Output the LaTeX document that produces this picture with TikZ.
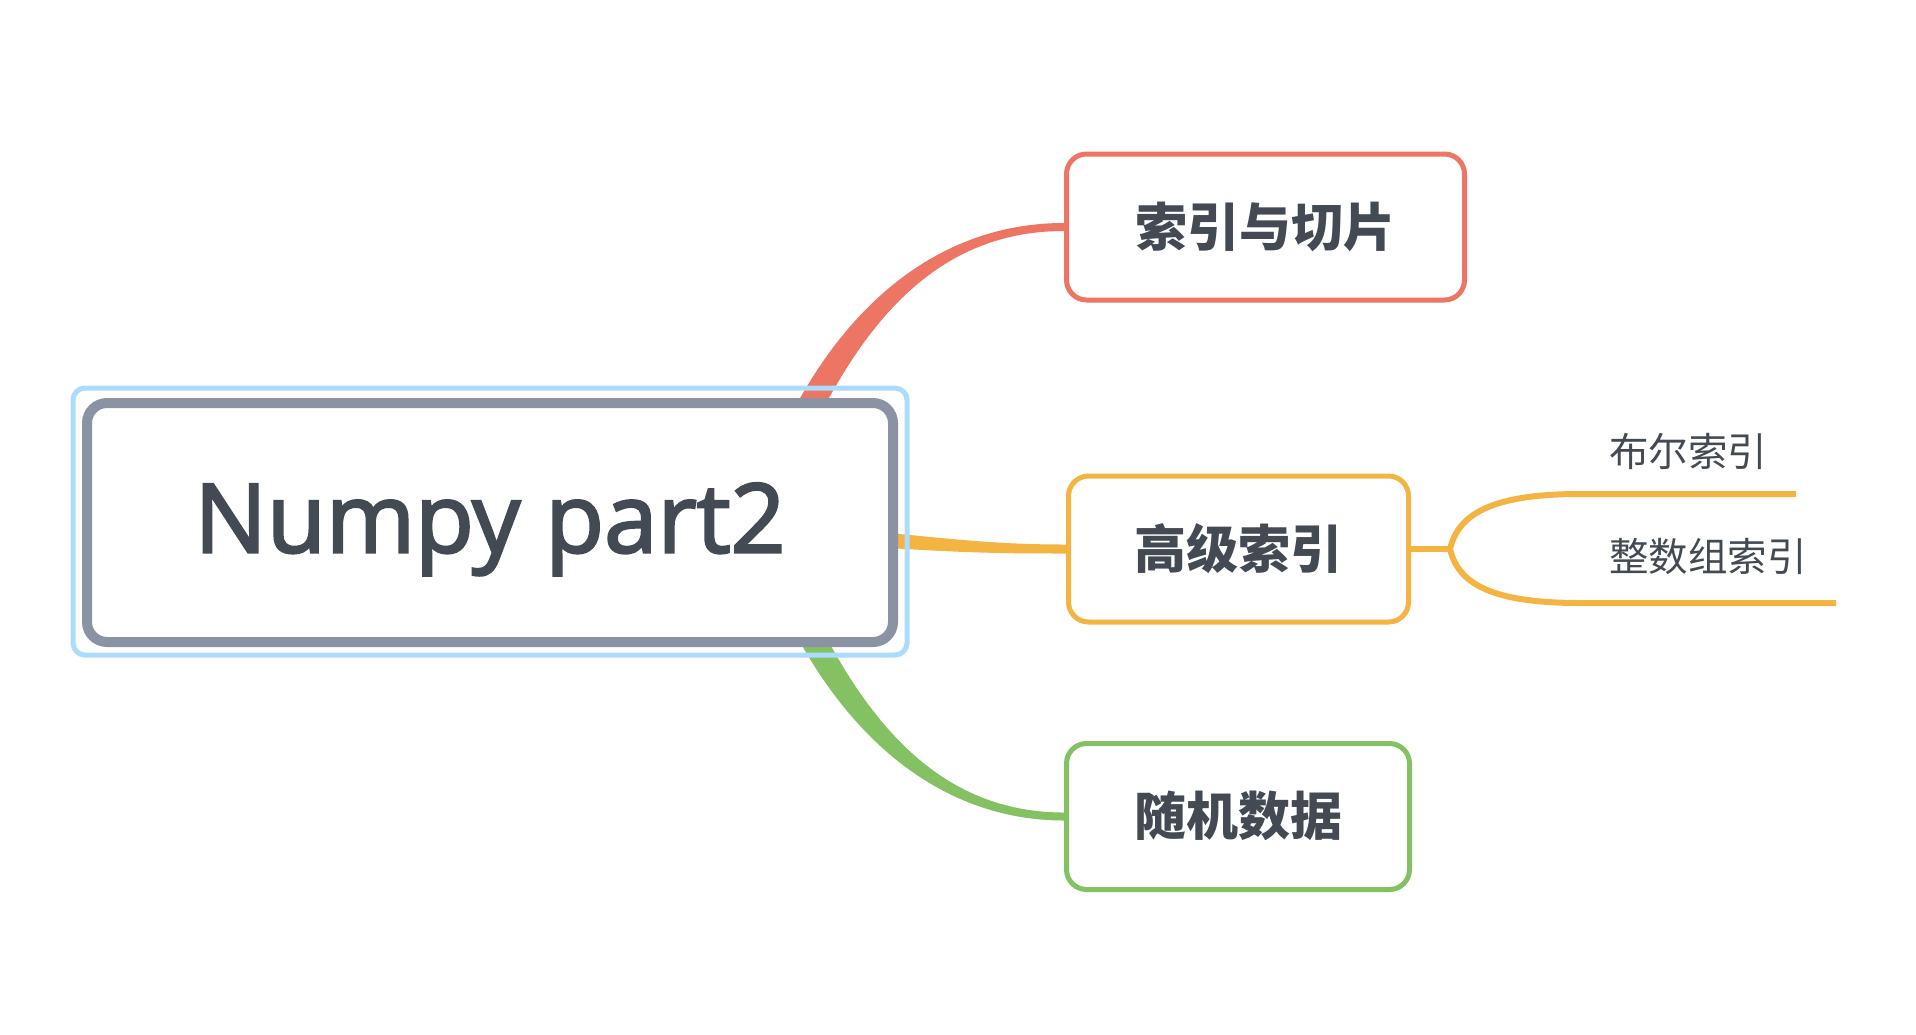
\documentclass[tikz,border=0pt]{standalone}
\usepackage{fontspec}
\setmainfont{Open Sans}
\newfontfamily\titlefont[FakeBold=2.5]{Open Sans}
\newfontfamily\cjk{Noto Sans CJK SC}
\usetikzlibrary{calc}
\definecolor{txt}{HTML}{434A54}
\definecolor{redc}{HTML}{EC7563}
\definecolor{orgc}{HTML}{F4B442}
\definecolor{grnc}{HTML}{84C163}
\definecolor{gryc}{HTML}{8A93A4}
\definecolor{bluc}{HTML}{ACDCFC}
\tikzset{
  topic/.style={draw=#1, line width=5pt, rounded corners=20pt, fill=white,
    minimum height=146pt, text=txt, anchor=west,
    font=\cjk\bfseries\fontsize{52}{60}\selectfont, text height=41pt, text depth=3pt, inner sep=0pt},
  subtopic/.style={text=txt, anchor=west, inner sep=0pt,
    font=\cjk\fontsize{39.5}{46}\selectfont, text height=32pt, text depth=2pt},
  branch/.style={draw=orgc, line width=6pt},
}
\begin{document}
\begin{tikzpicture}[x=1pt,y=-1pt]
\useasboundingbox (0,0) rectangle (1916,1034);
\coordinate (rs) at (780,470);
\coordinate (gs) at (780,570);
\coordinate (os) at (860,538);
\coordinate (redw) at (1064,227);
\coordinate (orgw) at (1066,549);
\coordinate (grnw) at (1064,816.5);
\fill[redc] ($(rs)+(-14,0)$) .. controls (826,318) and (930,223) .. ($(redw)+(0,-4)$)
  -- ($(redw)+(0,4)$) .. controls (930,231) and (854,332) .. ($(rs)+(14,0)$) -- cycle;
\fill[grnc] ($(gs)+(-14,0)$) .. controls (826,722) and (930,820.5) .. ($(grnw)+(0,4)$)
  -- ($(grnw)+(0,-4)$) .. controls (930,812.5) and (854,708) .. ($(gs)+(14,0)$) -- cycle;
\fill[orgc] ($(os)+(0,-8)$) .. controls (960,540) and (1000,544.5) .. ($(orgw)+(0,-4.5)$)
  -- ($(orgw)+(0,4.5)$) .. controls (1000,553.5) and (960,553) .. ($(os)+(0,8)$) -- cycle;
% central topic
\node[draw=bluc, line width=5pt, rounded corners=12pt, minimum width=834pt, minimum height=267pt] (sel) at (490,521.5) {};
\node[draw=gryc, fill=white, line width=10pt, rounded corners=20pt, minimum width=806pt, minimum height=239pt,
  text=txt, font=\titlefont\fontsize{96}{114}\selectfont, text height=70pt, text depth=10pt, inner sep=0pt] (root) at (490,522.5) {Numpy part2};
% main topics
\node[topic=redc, minimum width=398pt] (red) at (redw) {索引与切片};
\node[topic=orgc, minimum width=340pt] (org) at (orgw) {高级索引};
\node[topic=grnc, minimum width=343pt] (grn) at (grnw) {随机数据};
% subtopics
\coordinate (fork) at (1450,549);
\coordinate (b1s) at (1580,494);
\coordinate (b1e) at (1796,494);
\coordinate (b2s) at (1580,603);
\coordinate (b2e) at (1836,603);
\node[subtopic] (bool) at (1609,451) {布尔索引};
\node[subtopic] (intarr) at (1609,556) {整数组索引};
\draw[branch] (org.east) -- (fork);
\draw[branch] (fork) .. controls (1458,515) and (1490,494) .. (b1s) -- (b1e);
\draw[branch] (fork) .. controls (1458,583) and (1490,603) .. (b2s) -- (b2e);
\end{tikzpicture}
\end{document}
